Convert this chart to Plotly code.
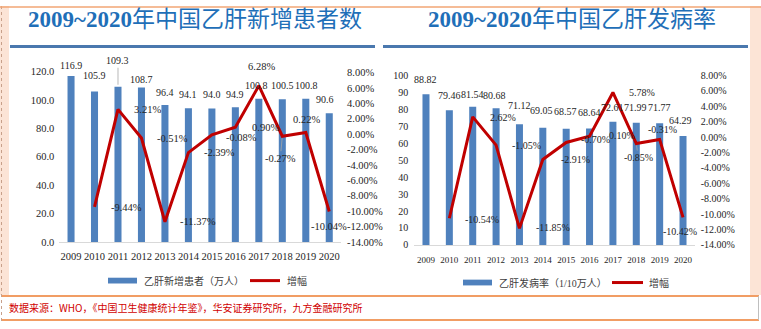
import plotly.graph_objects as go

# ---- data ----
years = ["2009", "2010", "2011", "2012", "2013", "2014",
         "2015", "2016", "2017", "2018", "2019", "2020"]

# new hepatitis B cases (10k people) and year-on-year change (%)
new_cases = [116.9, 105.9, 109.3, 108.7, 96.4, 94.1, 94.0, 94.9, 100.8, 100.5, 100.8, 90.6]
new_cases_growth = [None, -9.44, 3.21, -0.51, -11.37, -2.39, -0.08, 0.90, 6.28, -0.27, 0.22, -10.04]

# hepatitis B incidence (per 100k) and year-on-year change (%)
incidence = [88.82, 79.46, 81.54, 80.68, 71.12, 69.05, 68.57, 68.64, 72.61, 71.99, 71.77, 64.29]
incidence_growth = [None, -10.54, 2.62, -1.05, -11.85, -2.91, -0.70, 0.10, 5.78, -0.85, -0.31, -10.42]

left_ticks = [0, 20, 40, 60, 80, 100, 120]
right_ticks = [0, 10, 20, 30, 40, 50, 60, 70, 80, 90, 100]
pct_ticks = [-14, -12, -10, -8, -6, -4, -2, 0, 2, 4, 6, 8]

# ---- page geometry helpers (pixel -> paper) ----
W, H = 761, 329


def px(x):
    return x / W


def py(y):
    return 1 - y / H


BAR_BLUE = "#4F81BD"
LINE_RED = "#C00000"
TEXT = "#262626"
LEADER = "#A6A6A6"
SERIF = "'Liberation Serif', serif"
CJK = "'Noto Sans CJK SC', sans-serif"
MIXED = "'Liberation Serif', 'Noto Sans CJK SC', serif"
TITLE_BLUE = "#1F6FB8"

fig = go.Figure()

fig.add_trace(go.Bar(x=years, y=new_cases, width=0.3, marker_color=BAR_BLUE,
                     marker_line_width=0, xaxis="x", yaxis="y", showlegend=False))
fig.add_trace(go.Scatter(x=years, y=new_cases_growth, mode="lines",
                         line=dict(color=LINE_RED, width=3),
                         xaxis="x", yaxis="y2", showlegend=False))
fig.add_trace(go.Bar(x=years, y=incidence, width=0.3, marker_color=BAR_BLUE,
                     marker_line_width=0, xaxis="x2", yaxis="y3", showlegend=False))
fig.add_trace(go.Scatter(x=years, y=incidence_growth, mode="lines",
                         line=dict(color=LINE_RED, width=3),
                         xaxis="x2", yaxis="y4", showlegend=False))

annotations = []


def label(i, v, text, xref, yref, size, anchor, dx, dy, leader=False):
    """Value label near point (i, v); optional thin leader line back to it."""
    font = dict(family=SERIF, size=size, color=TEXT)
    if leader:
        annotations.append(dict(x=i, y=v, xref=xref, yref=yref, text=text,
                                showarrow=True, arrowhead=0, arrowwidth=0.8,
                                arrowcolor=LEADER, standoff=2, ax=dx, ay=-dy,
                                xanchor="center", yanchor="middle", font=font))
    else:
        annotations.append(dict(x=i, y=v, xref=xref, yref=yref, text=text,
                                showarrow=False, xanchor=anchor, yanchor="middle",
                                xshift=dx, yshift=dy, font=font))


# bar value labels: (xshift, yshift above bar top, leader)
left_bar_off = [(0, 10, False), (0, 16, False), (0, 26, True), (0, 8, False),
                (0, 13, False), (0, 14, False), (0, 14, False), (0, 13, False),
                (-2, 13, False), (0, 14, False), (1, 13, False), (-4, 14, False)]
right_bar_off = [(0, 15, False), (0, 15, False), (0, 12, False), (-2, 13, False),
                 (0, 19, False), (-1, 17, False), (-1, 17, False), (0, 16, False),
                 (0, 14, False), (-1, 15, False), (0, 16, False), (-3, 15, False)]

# category positions are given as indices so numeric-looking year names
# are not mistaken for coordinates
for i, (v, (dx, dy, ld)) in enumerate(zip(new_cases, left_bar_off)):
    label(i, v, f"{v:.1f}", "x", "y", 10, "center", dx, dy, ld)
for i, (v, (dx, dy, ld)) in enumerate(zip(incidence, right_bar_off)):
    label(i, v, f"{v:.2f}", "x2", "y3", 10, "center", dx, dy, ld)

# growth labels: (anchor, xshift, yshift, leader)
left_rate_pos = [None, ("left", 14, -1, False), ("left", 14, 0, False),
                 ("left", 14, 0, False), ("left", 13, 0, False),
                 ("left", 14, 0, False), ("left", 12, -3, False),
                 ("left", 15, 0, False), ("center", 3, 19, False),
                 ("center", -2, -22, True), ("center", 1, 13, False),
                 ("center", 0, -15, False)]
right_rate_pos = [None, ("left", 14, -1, False), ("left", 15, -1, False),
                  ("left", 14, 0, False), ("left", 15, 1, False),
                  ("left", 16, 0, False), ("left", 13, 3, False),
                  ("left", 17, 1, False), ("left", 14, 0, False),
                  ("center", 2, -14, True), ("center", 3, 10, False),
                  ("center", -3, -14, False)]

for i, (v, pos) in enumerate(zip(new_cases_growth, left_rate_pos)):
    if v is not None:
        label(i, v, f"{v:.2f}%", "x", "y2", 10.5, *pos)
for i, (v, pos) in enumerate(zip(incidence_growth, right_rate_pos)):
    if v is not None:
        label(i, v, f"{v:.2f}%", "x2", "y4", 10, *pos)

# titles
TITLE_FONT = dict(family=MIXED, size=23, color=TITLE_BLUE)
annotations.append(dict(x=px(195), y=py(14), xref="paper", yref="paper",
                        text="<b>2009~2020</b>年中国乙肝新增患者数", showarrow=False,
                        xanchor="center", yanchor="middle", font=TITLE_FONT))
annotations.append(dict(x=px(572), y=py(14), xref="paper", yref="paper",
                        text="<b>2009~2020</b>年中国乙肝发病率", showarrow=False,
                        xanchor="center", yanchor="middle", font=TITLE_FONT))

# legend texts
LEG_FONT = dict(family=MIXED, size=10, color="#404040")
for x0, y0, txt in [(142, 285, "乙肝新增患者（万人）"), (285, 285, "增幅"),
                    (497, 287, "乙肝发病率（1/10万人）"), (647, 287, "增幅")]:
    annotations.append(dict(x=px(x0), y=py(y0), xref="paper", yref="paper",
                            text=txt, showarrow=False, xanchor="left",
                            yanchor="middle", font=LEG_FONT))

# footer source note
annotations.append(dict(x=px(7), y=py(313), xref="paper", yref="paper",
                        text="数据来源：WHO，《中国卫生健康统计年鉴》，华安证券研究所，九方金融研究所",
                        showarrow=False, xanchor="left", yanchor="middle",
                        font=dict(family=CJK, size=10, color="#D00000")))

shapes = []


def rect(x0, y0, x1, y1, fill):
    shapes.append(dict(type="rect", xref="paper", yref="paper",
                       x0=px(x0), x1=px(x1), y0=py(y1), y1=py(y0),
                       fillcolor=fill, line=dict(width=0), layer="below"))


def hline(x0, x1, y, color, width, dash="solid"):
    shapes.append(dict(type="line", xref="paper", yref="paper",
                       x0=px(x0), x1=px(x1), y0=py(y), y1=py(y),
                       line=dict(color=color, width=width, dash=dash)))


def vline(x, y0, y1, color, width, dash="solid"):
    shapes.append(dict(type="line", xref="paper", yref="paper",
                       x0=px(x), x1=px(x), y0=py(y0), y1=py(y1),
                       line=dict(color=color, width=width, dash=dash)))


# page frame
rect(0, 0, 9, 300, "#FCE4D6")
rect(750, 0, 761, 300, "#FCE4D6")
vline(1.5, 0, 329, "#C8A08A", 1, "dot")
hline(0, 761, 1, "#F2A675", 1.5)
hline(2, 759, 301, "#ED7D31", 1.5)
hline(2, 759, 326, "#ED7D31", 1.5)
vline(758.5, 301, 326, "#BFBFBF", 1)

# title underlines
hline(10, 375, 42, "#4A78AE", 3)
hline(383, 748, 42, "#4A78AE", 3)

# legend swatches
rect(108, 282, 137, 288, BAR_BLUE)
hline(250, 280, 285, LINE_RED, 3)
rect(463, 284, 492, 290, BAR_BLUE)
hline(612, 643, 287, LINE_RED, 3)

axis_font_l = dict(family=SERIF, size=10.5, color=TEXT)
axis_font_r = dict(family=SERIF, size=10, color=TEXT)
pct_text = [f"{t:.2f}%" for t in pct_ticks]

fig.update_layout(
    width=W, height=H,
    margin=dict(l=0, r=0, t=0, b=0),
    paper_bgcolor="white", plot_bgcolor="rgba(0,0,0,0)",
    showlegend=False,
    xaxis=dict(domain=[px(59.3), px(341)], type="category", range=[-0.5, 11.5],
               anchor="y", showline=True, linecolor="#D9D9D9", linewidth=1,
               ticks="", showgrid=False, tickfont=axis_font_l, ticklabelstandoff=4),
    yaxis=dict(domain=[py(245), py(68)], range=[0, 120], anchor="x",
               tickvals=left_ticks, ticktext=[f"{t:.1f}" for t in left_ticks],
               showgrid=False, zeroline=False, ticks="", tickfont=axis_font_l,
               ticklabelstandoff=4),
    yaxis2=dict(overlaying="y", side="right", anchor="x", range=[-14, 8.125],
                tickvals=pct_ticks, ticktext=pct_text, showgrid=False,
                zeroline=False, ticks="", tickfont=axis_font_l, ticklabelstandoff=5),
    xaxis2=dict(domain=[px(414.3), px(694.7)], type="category", range=[-0.5, 11.5],
                anchor="y3", showline=True, linecolor="#D9D9D9", linewidth=1,
                ticks="", showgrid=False,
                tickfont=dict(family=SERIF, size=9, color=TEXT), ticklabelstandoff=6),
    yaxis3=dict(domain=[py(248), py(72)], range=[0, 100], anchor="x2",
                tickvals=right_ticks, showgrid=False, zeroline=False, ticks="",
                tickfont=axis_font_r, ticklabelstandoff=5),
    yaxis4=dict(overlaying="y3", side="right", anchor="x2", range=[-14, 8],
                tickvals=pct_ticks, ticktext=pct_text, showgrid=False,
                zeroline=False, ticks="", tickfont=axis_font_r, ticklabelstandoff=5),
    annotations=annotations,
    shapes=shapes,
)

fig.write_html("out.html")
